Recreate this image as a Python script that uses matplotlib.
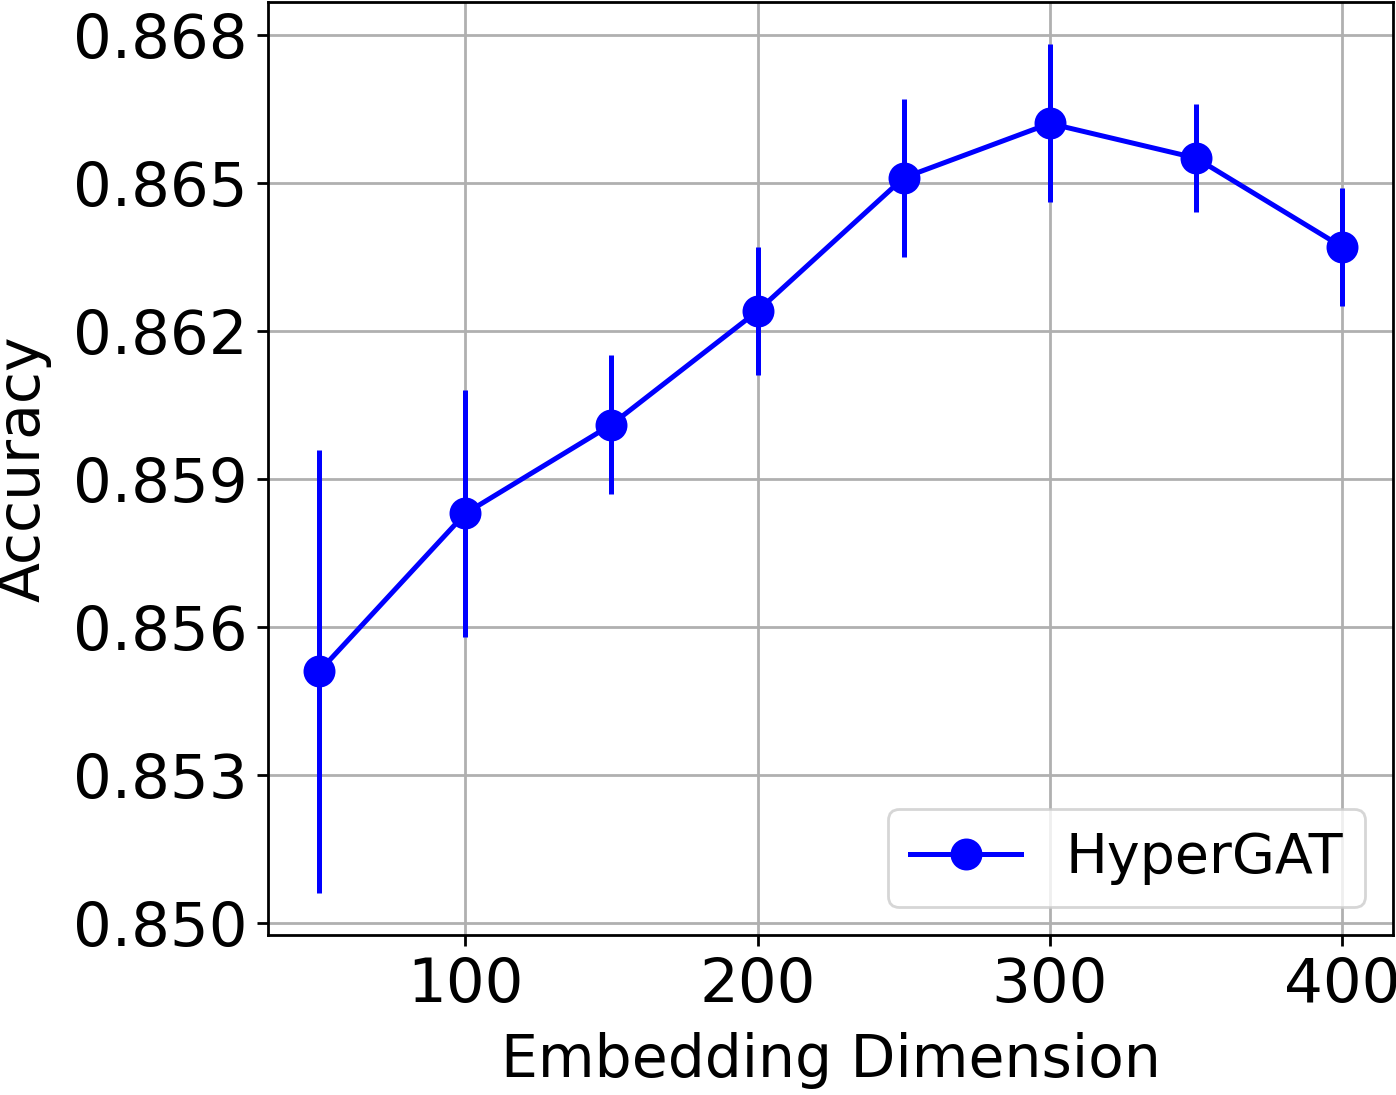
import matplotlib
matplotlib.use("Agg")
import matplotlib.pyplot as plt
from matplotlib.lines import Line2D
from matplotlib.ticker import FormatStrFormatter

dims = [50, 100, 150, 200, 250, 300, 350, 400]
acc = [0.85510, 0.85830, 0.86010, 0.86240, 0.86510, 0.86620, 0.86550, 0.86370]
err = [0.00448, 0.00250, 0.00140, 0.00130, 0.00160, 0.00160, 0.00110, 0.00120]
yticks = [0.850, 0.853, 0.856, 0.859, 0.862, 0.865, 0.868]
xticks = [100, 200, 300, 400]


def main():
    fig = plt.figure(figsize=(6.98, 5.475), dpi=200)
    ax = fig.add_axes([0.192, 0.1461, 0.806, 0.852])

    ax.errorbar(dims, acc, yerr=err, color="blue", marker="o", markersize=10.5,
                lw=1.8, elinewidth=1.8, zorder=3)

    ax.set_xticks(xticks)
    ax.set_yticks(yticks)
    ax.yaxis.set_major_formatter(FormatStrFormatter("%.3f"))
    ax.tick_params(labelsize=22, width=1.0, length=4)
    for s in ax.spines.values():
        s.set_linewidth(1.0)
    ax.grid(True, color="#b0b0b0", lw=1.0)
    ax.set_axisbelow(True)

    ax.set_xlabel("Embedding Dimension", fontsize=21, labelpad=6)
    ax.set_ylabel("Accuracy", fontsize=21)
    ax.yaxis.set_label_coords(-0.192, 0.5)

    handle = Line2D([], [], color="blue", marker="o", markersize=10.5, lw=1.8)
    ax.legend([handle], ["HyperGAT"], loc="lower right", fontsize=20)

    fig.savefig("out.png", dpi=200)
    plt.close(fig)


if __name__ == "__main__":
    main()
